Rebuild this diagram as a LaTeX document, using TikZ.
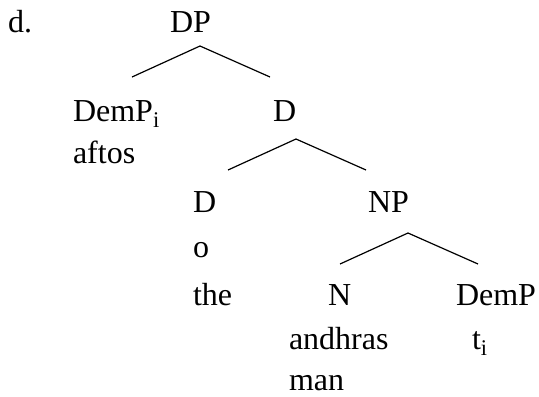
\documentclass[tikz,border=0pt]{standalone}
\usepackage{fontspec}
\setmainfont{Liberation Serif}
\usepackage{tikz}
\usetikzlibrary{positioning}
\tikzset{
    word/.style={
        anchor=base west,
        inner sep=0pt,
        outer sep=0pt
    },
    branch/.style={draw, line width=1.2bp},
    font={\fontsize{32bp}{38bp}\selectfont},
}

\begin{document}
\begin{tikzpicture}[x=1bp, y=-1bp]
    \useasboundingbox (0,0) rectangle (539,396);
    % labels, row by row
    \node[word] (ex)    at (8,32)    {d.};
    \node[word] (DP)    at (170,32)  {DP};
    \node[word] (DemPi) at (73,121)  {DemP\textsubscript{i}};
    \node[word] (Dbar)  at (273,121) {D};
    \node[word] (aftos) at (73,163)  {aftos};
    \node[word] (D)     at (193,212) {D};
    \node[word] (NP)    at (368,212) {NP};
    \node[word] (o)     at (193,257) {o};
    \node[word] (the)   at (193,305) {the};
    \node[word] (N)     at (328,305) {N};
    \node[word] (DemP)  at (456,305) {DemP};
    \node[word] (andhras) at (289,349) {andhras};
    \node[word] (ti)    at (472,349) {t\textsubscript{i}};
    \node[word] (man)   at (289,390) {man};
    % branch points
    \coordinate (DPtop)   at (200,46);
    \coordinate (DPleft)  at (132,77);
    \coordinate (DPright) at (270,77);
    \coordinate (Dtop)    at (296,139);
    \coordinate (Dleft)   at (228,170);
    \coordinate (Dright)  at (366,170);
    \coordinate (NPtop)   at (408,233);
    \coordinate (NPleft)  at (340,264);
    \coordinate (NPright) at (478,264);
    \draw[branch] (DPleft) -- (DPtop) -- (DPright);
    \draw[branch] (Dleft) -- (Dtop) -- (Dright);
    \draw[branch] (NPleft) -- (NPtop) -- (NPright);
\end{tikzpicture}
\end{document}
